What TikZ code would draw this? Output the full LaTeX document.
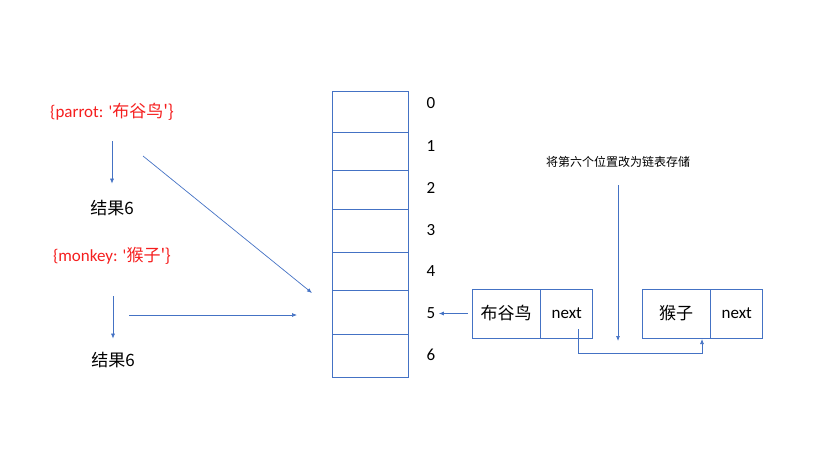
\documentclass[tikz,border=0pt]{standalone}
\usepackage{fontspec}
\setmainfont{Carlito}
\newfontfamily\cjk{Noto Sans CJK SC}
\usetikzlibrary{arrows.meta}
\definecolor{lineblue}{RGB}{68,114,196}
\definecolor{keyred}{RGB}{245,30,30}

\tikzset{
    cell/.style={draw=lineblue, line width=0.8pt, minimum width=76pt, inner sep=0pt},
    box/.style={draw=lineblue, line width=0.8pt, minimum height=49pt, inner sep=0pt, font=\fontsize{17}{19}\selectfont},
    idx/.style={font=\fontsize{17}{19}\selectfont},
    key/.style={text=keyred, font=\fontsize{17}{19}\selectfont},
    txt/.style={font=\fontsize{17}{19}\selectfont},
    note/.style={font=\fontsize{12}{14}\selectfont},
    arr/.style={draw=lineblue, line width=0.7pt, -{Latex[length=5pt,width=4pt]}}
}

\begin{document}
\begin{tikzpicture}[x=1pt, y=-1pt]
    \useasboundingbox (0,0) rectangle (829,458);

    % Array with index labels
    \foreach \i/\m/\h/\y in {0/111.5/41/103, 1/151/38/146, 2/189.5/39/188, 3/230.5/43/230,
                             4/271/38/271, 5/312/44/313, 6/355.5/43/355} {
        \node[cell, minimum height=\h pt] (c\i) at (370,\m) {};
        \node[idx] (l\i) at (431,\y) {\i};
    }

    % Keys and results
    \node[key] (parrot) at (112,112) {\{parrot: \textquotesingle\cjk{布谷鸟}\textquotesingle\}};
    \node[txt] (res1) at (112,208) {\cjk{结果}6};
    \node[key] (monkey) at (112,256) {\{monkey: \textquotesingle\cjk{猴子}\textquotesingle\}};
    \node[txt] (res2) at (113,360) {\cjk{结果}6};

    \coordinate (dstart) at (143,156);
    \coordinate (dend) at (312,293);
    \coordinate (hstart) at (129,315);
    \coordinate (hend) at (297,315);

    % Arrows on the left
    \draw[arr, shorten <=17pt, shorten >=13pt] (parrot) -- (res1);
    \draw[arr, shorten <=28pt, shorten >=10pt] (monkey.south -| res2) -- (res2);
    \draw[arr] (dstart) -- (dend);
    \draw[arr] (hstart) -- (hend);

    % Linked list
    \node[box, minimum width=68pt] (bgn) at (506,313.5) {\cjk{布谷鸟}};
    \node[box, minimum width=52pt, anchor=west] (bgnnext) at (bgn.east) {next};
    \node[box, minimum width=68pt] (hz) at (676,313.5) {\cjk{猴子}};
    \node[box, minimum width=52pt, anchor=west] (hznext) at (hz.east) {next};

    \coordinate (nx1) at (578,329);
    \coordinate (nx2) at (702,339);
    \draw[arr] (bgn.west) ++(-4,0) -- (bgn.west -| l5.east);
    \draw[arr] (nx1) -- ++(0,24) -| (nx2);

    % Note
    \node[note] (note) at (618,162) {\cjk{将第六个位置改为链表存储}};
    \coordinate (noteend) at (618,341);
    \draw[arr, shorten <=14pt] (note) -- (noteend);
\end{tikzpicture}
\end{document}
